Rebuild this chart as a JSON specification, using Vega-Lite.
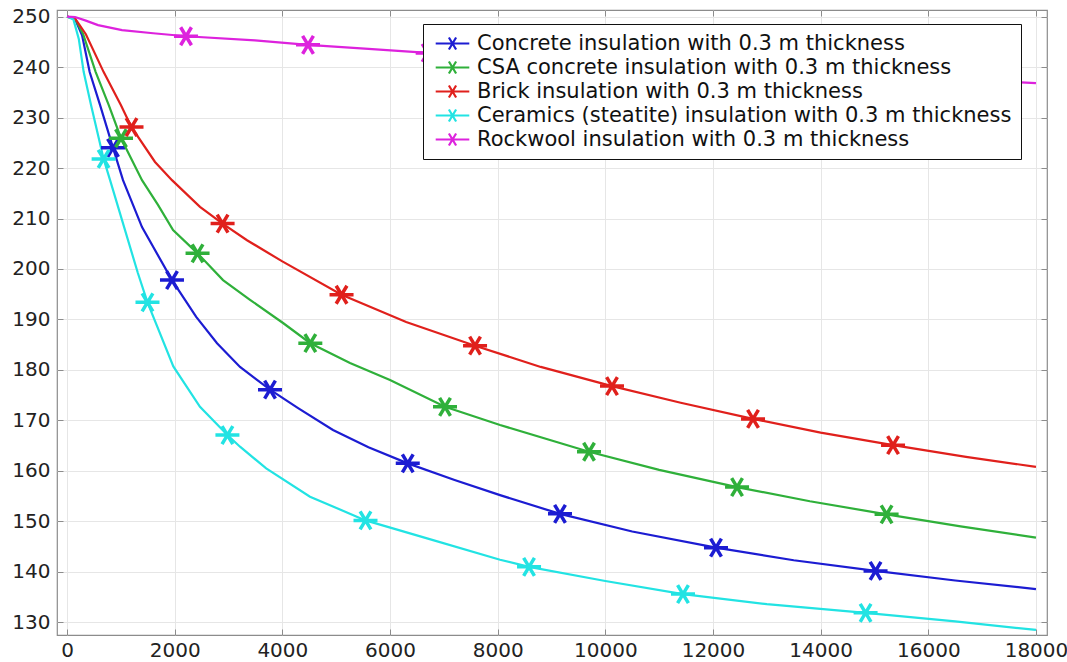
{
  "$schema": "https://vega.github.io/schema/vega-lite/v6.json",
  "width": 990,
  "height": 625,
  "autosize": {"type": "none"},
  "padding": {"left": 57, "top": 10, "right": 20, "bottom": 27},
  "background": "white",
  "config": {
    "view": {"stroke": "#8c8c8c", "strokeWidth": 1.2},
    "font": "DejaVu Sans"
  },
  "datasets": {
    "lines": [
      {"s": "Concrete insulation with 0.3 m thickness", "x": 0, "y": 250},
      {"s": "Concrete insulation with 0.3 m thickness", "x": 150, "y": 249.5},
      {"s": "Concrete insulation with 0.3 m thickness", "x": 280, "y": 246.3},
      {"s": "Concrete insulation with 0.3 m thickness", "x": 421, "y": 239},
      {"s": "Concrete insulation with 0.3 m thickness", "x": 613, "y": 232.5},
      {"s": "Concrete insulation with 0.3 m thickness", "x": 855, "y": 224},
      {"s": "Concrete insulation with 0.3 m thickness", "x": 1040, "y": 217.6},
      {"s": "Concrete insulation with 0.3 m thickness", "x": 1393, "y": 208.3},
      {"s": "Concrete insulation with 0.3 m thickness", "x": 1950, "y": 197.8},
      {"s": "Concrete insulation with 0.3 m thickness", "x": 2400, "y": 190.5},
      {"s": "Concrete insulation with 0.3 m thickness", "x": 2787, "y": 185.3},
      {"s": "Concrete insulation with 0.3 m thickness", "x": 3214, "y": 180.6},
      {"s": "Concrete insulation with 0.3 m thickness", "x": 3771, "y": 176.1},
      {"s": "Concrete insulation with 0.3 m thickness", "x": 4300, "y": 172.4},
      {"s": "Concrete insulation with 0.3 m thickness", "x": 4941, "y": 168.1},
      {"s": "Concrete insulation with 0.3 m thickness", "x": 5600, "y": 164.7},
      {"s": "Concrete insulation with 0.3 m thickness", "x": 6330, "y": 161.5},
      {"s": "Concrete insulation with 0.3 m thickness", "x": 7200, "y": 158.2},
      {"s": "Concrete insulation with 0.3 m thickness", "x": 8044, "y": 155.2},
      {"s": "Concrete insulation with 0.3 m thickness", "x": 9158, "y": 151.5},
      {"s": "Concrete insulation with 0.3 m thickness", "x": 10500, "y": 148.0},
      {"s": "Concrete insulation with 0.3 m thickness", "x": 12056, "y": 144.8},
      {"s": "Concrete insulation with 0.3 m thickness", "x": 13500, "y": 142.3},
      {"s": "Concrete insulation with 0.3 m thickness", "x": 15020, "y": 140.2},
      {"s": "Concrete insulation with 0.3 m thickness", "x": 16500, "y": 138.3},
      {"s": "Concrete insulation with 0.3 m thickness", "x": 18000, "y": 136.6},

      {"s": "CSA concrete insulation with 0.3 m thickness", "x": 0, "y": 250},
      {"s": "CSA concrete insulation with 0.3 m thickness", "x": 150, "y": 249.6},
      {"s": "CSA concrete insulation with 0.3 m thickness", "x": 300, "y": 246.5},
      {"s": "CSA concrete insulation with 0.3 m thickness", "x": 533, "y": 239},
      {"s": "CSA concrete insulation with 0.3 m thickness", "x": 774, "y": 232.5},
      {"s": "CSA concrete insulation with 0.3 m thickness", "x": 1003, "y": 225.9},
      {"s": "CSA concrete insulation with 0.3 m thickness", "x": 1393, "y": 217.6},
      {"s": "CSA concrete insulation with 0.3 m thickness", "x": 1690, "y": 212.7},
      {"s": "CSA concrete insulation with 0.3 m thickness", "x": 1970, "y": 207.7},
      {"s": "CSA concrete insulation with 0.3 m thickness", "x": 2425, "y": 203.1},
      {"s": "CSA concrete insulation with 0.3 m thickness", "x": 2898, "y": 197.8},
      {"s": "CSA concrete insulation with 0.3 m thickness", "x": 3400, "y": 193.9},
      {"s": "CSA concrete insulation with 0.3 m thickness", "x": 4013, "y": 189.3},
      {"s": "CSA concrete insulation with 0.3 m thickness", "x": 4520, "y": 185.3},
      {"s": "CSA concrete insulation with 0.3 m thickness", "x": 5257, "y": 181.4},
      {"s": "CSA concrete insulation with 0.3 m thickness", "x": 6000, "y": 178.0},
      {"s": "CSA concrete insulation with 0.3 m thickness", "x": 7022, "y": 172.7},
      {"s": "CSA concrete insulation with 0.3 m thickness", "x": 8044, "y": 169.1},
      {"s": "CSA concrete insulation with 0.3 m thickness", "x": 9697, "y": 163.8},
      {"s": "CSA concrete insulation with 0.3 m thickness", "x": 11000, "y": 160.2},
      {"s": "CSA concrete insulation with 0.3 m thickness", "x": 12447, "y": 156.8},
      {"s": "CSA concrete insulation with 0.3 m thickness", "x": 13800, "y": 154.0},
      {"s": "CSA concrete insulation with 0.3 m thickness", "x": 15225, "y": 151.4},
      {"s": "CSA concrete insulation with 0.3 m thickness", "x": 16600, "y": 149.0},
      {"s": "CSA concrete insulation with 0.3 m thickness", "x": 18000, "y": 146.8},

      {"s": "Brick insulation with 0.3 m thickness", "x": 0, "y": 250},
      {"s": "Brick insulation with 0.3 m thickness", "x": 150, "y": 249.6},
      {"s": "Brick insulation with 0.3 m thickness", "x": 350, "y": 246.5},
      {"s": "Brick insulation with 0.3 m thickness", "x": 681, "y": 239},
      {"s": "Brick insulation with 0.3 m thickness", "x": 1000, "y": 232.5},
      {"s": "Brick insulation with 0.3 m thickness", "x": 1198, "y": 228.1},
      {"s": "Brick insulation with 0.3 m thickness", "x": 1635, "y": 221.2},
      {"s": "Brick insulation with 0.3 m thickness", "x": 1950, "y": 217.6},
      {"s": "Brick insulation with 0.3 m thickness", "x": 2470, "y": 212.3},
      {"s": "Brick insulation with 0.3 m thickness", "x": 2890, "y": 209.0},
      {"s": "Brick insulation with 0.3 m thickness", "x": 3344, "y": 205.7},
      {"s": "Brick insulation with 0.3 m thickness", "x": 4000, "y": 201.5},
      {"s": "Brick insulation with 0.3 m thickness", "x": 5100, "y": 194.9},
      {"s": "Brick insulation with 0.3 m thickness", "x": 6300, "y": 189.5},
      {"s": "Brick insulation with 0.3 m thickness", "x": 7580, "y": 184.8},
      {"s": "Brick insulation with 0.3 m thickness", "x": 8800, "y": 180.6},
      {"s": "Brick insulation with 0.3 m thickness", "x": 10124, "y": 176.8},
      {"s": "Brick insulation with 0.3 m thickness", "x": 11400, "y": 173.5},
      {"s": "Brick insulation with 0.3 m thickness", "x": 12744, "y": 170.3},
      {"s": "Brick insulation with 0.3 m thickness", "x": 14000, "y": 167.6},
      {"s": "Brick insulation with 0.3 m thickness", "x": 15345, "y": 165.1},
      {"s": "Brick insulation with 0.3 m thickness", "x": 16700, "y": 162.8},
      {"s": "Brick insulation with 0.3 m thickness", "x": 18000, "y": 160.8},

      {"s": "Ceramics (steatite) insulation with 0.3 m thickness", "x": 0, "y": 250},
      {"s": "Ceramics (steatite) insulation with 0.3 m thickness", "x": 120, "y": 249.4},
      {"s": "Ceramics (steatite) insulation with 0.3 m thickness", "x": 220, "y": 245.5},
      {"s": "Ceramics (steatite) insulation with 0.3 m thickness", "x": 310, "y": 239},
      {"s": "Ceramics (steatite) insulation with 0.3 m thickness", "x": 446, "y": 232.5},
      {"s": "Ceramics (steatite) insulation with 0.3 m thickness", "x": 680, "y": 221.8},
      {"s": "Ceramics (steatite) insulation with 0.3 m thickness", "x": 800, "y": 217.6},
      {"s": "Ceramics (steatite) insulation with 0.3 m thickness", "x": 1316, "y": 199.2},
      {"s": "Ceramics (steatite) insulation with 0.3 m thickness", "x": 1495, "y": 193.4},
      {"s": "Ceramics (steatite) insulation with 0.3 m thickness", "x": 1975, "y": 180.7},
      {"s": "Ceramics (steatite) insulation with 0.3 m thickness", "x": 2470, "y": 172.7},
      {"s": "Ceramics (steatite) insulation with 0.3 m thickness", "x": 2980, "y": 167.1},
      {"s": "Ceramics (steatite) insulation with 0.3 m thickness", "x": 3214, "y": 164.8},
      {"s": "Ceramics (steatite) insulation with 0.3 m thickness", "x": 3700, "y": 160.5},
      {"s": "Ceramics (steatite) insulation with 0.3 m thickness", "x": 4514, "y": 154.9},
      {"s": "Ceramics (steatite) insulation with 0.3 m thickness", "x": 5545, "y": 150.2},
      {"s": "Ceramics (steatite) insulation with 0.3 m thickness", "x": 6800, "y": 146.3},
      {"s": "Ceramics (steatite) insulation with 0.3 m thickness", "x": 8044, "y": 142.4},
      {"s": "Ceramics (steatite) insulation with 0.3 m thickness", "x": 8583, "y": 141.0},
      {"s": "Ceramics (steatite) insulation with 0.3 m thickness", "x": 10000, "y": 138.2},
      {"s": "Ceramics (steatite) insulation with 0.3 m thickness", "x": 11443, "y": 135.6},
      {"s": "Ceramics (steatite) insulation with 0.3 m thickness", "x": 13000, "y": 133.6},
      {"s": "Ceramics (steatite) insulation with 0.3 m thickness", "x": 14835, "y": 131.9},
      {"s": "Ceramics (steatite) insulation with 0.3 m thickness", "x": 16500, "y": 130.2},
      {"s": "Ceramics (steatite) insulation with 0.3 m thickness", "x": 18000, "y": 128.5},

      {"s": "Rockwool insulation with 0.3 m thickness", "x": 0, "y": 250},
      {"s": "Rockwool insulation with 0.3 m thickness", "x": 150, "y": 249.9},
      {"s": "Rockwool insulation with 0.3 m thickness", "x": 350, "y": 249.2},
      {"s": "Rockwool insulation with 0.3 m thickness", "x": 576, "y": 248.3},
      {"s": "Rockwool insulation with 0.3 m thickness", "x": 1022, "y": 247.3},
      {"s": "Rockwool insulation with 0.3 m thickness", "x": 1600, "y": 246.7},
      {"s": "Rockwool insulation with 0.3 m thickness", "x": 2211, "y": 246.1},
      {"s": "Rockwool insulation with 0.3 m thickness", "x": 3492, "y": 245.3},
      {"s": "Rockwool insulation with 0.3 m thickness", "x": 4477, "y": 244.4},
      {"s": "Rockwool insulation with 0.3 m thickness", "x": 5600, "y": 243.6},
      {"s": "Rockwool insulation with 0.3 m thickness", "x": 6700, "y": 242.8},
      {"s": "Rockwool insulation with 0.3 m thickness", "x": 8000, "y": 242.1},
      {"s": "Rockwool insulation with 0.3 m thickness", "x": 10000, "y": 241.1},
      {"s": "Rockwool insulation with 0.3 m thickness", "x": 12000, "y": 240.0},
      {"s": "Rockwool insulation with 0.3 m thickness", "x": 14000, "y": 238.9},
      {"s": "Rockwool insulation with 0.3 m thickness", "x": 16000, "y": 237.9},
      {"s": "Rockwool insulation with 0.3 m thickness", "x": 18000, "y": 236.8}
    ],
    "markers": [
      {"s": "Concrete insulation with 0.3 m thickness", "x": 855, "y": 224.0},
      {"s": "Concrete insulation with 0.3 m thickness", "x": 1950, "y": 197.8},
      {"s": "Concrete insulation with 0.3 m thickness", "x": 3771, "y": 176.1},
      {"s": "Concrete insulation with 0.3 m thickness", "x": 6330, "y": 161.5},
      {"s": "Concrete insulation with 0.3 m thickness", "x": 9158, "y": 151.5},
      {"s": "Concrete insulation with 0.3 m thickness", "x": 12056, "y": 144.8},
      {"s": "Concrete insulation with 0.3 m thickness", "x": 15020, "y": 140.2},
      {"s": "CSA concrete insulation with 0.3 m thickness", "x": 1003, "y": 225.9},
      {"s": "CSA concrete insulation with 0.3 m thickness", "x": 2425, "y": 203.1},
      {"s": "CSA concrete insulation with 0.3 m thickness", "x": 4520, "y": 185.3},
      {"s": "CSA concrete insulation with 0.3 m thickness", "x": 7022, "y": 172.7},
      {"s": "CSA concrete insulation with 0.3 m thickness", "x": 9697, "y": 163.8},
      {"s": "CSA concrete insulation with 0.3 m thickness", "x": 12447, "y": 156.8},
      {"s": "CSA concrete insulation with 0.3 m thickness", "x": 15225, "y": 151.4},
      {"s": "Brick insulation with 0.3 m thickness", "x": 1198, "y": 228.1},
      {"s": "Brick insulation with 0.3 m thickness", "x": 2890, "y": 209.0},
      {"s": "Brick insulation with 0.3 m thickness", "x": 5100, "y": 194.9},
      {"s": "Brick insulation with 0.3 m thickness", "x": 7580, "y": 184.8},
      {"s": "Brick insulation with 0.3 m thickness", "x": 10124, "y": 176.8},
      {"s": "Brick insulation with 0.3 m thickness", "x": 12744, "y": 170.3},
      {"s": "Brick insulation with 0.3 m thickness", "x": 15345, "y": 165.1},
      {"s": "Ceramics (steatite) insulation with 0.3 m thickness", "x": 680, "y": 221.8},
      {"s": "Ceramics (steatite) insulation with 0.3 m thickness", "x": 1495, "y": 193.4},
      {"s": "Ceramics (steatite) insulation with 0.3 m thickness", "x": 2980, "y": 167.1},
      {"s": "Ceramics (steatite) insulation with 0.3 m thickness", "x": 5545, "y": 150.2},
      {"s": "Ceramics (steatite) insulation with 0.3 m thickness", "x": 8583, "y": 141.0},
      {"s": "Ceramics (steatite) insulation with 0.3 m thickness", "x": 11443, "y": 135.6},
      {"s": "Ceramics (steatite) insulation with 0.3 m thickness", "x": 14835, "y": 131.9},
      {"s": "Rockwool insulation with 0.3 m thickness", "x": 2211, "y": 246.1},
      {"s": "Rockwool insulation with 0.3 m thickness", "x": 4477, "y": 244.4},
      {"s": "Rockwool insulation with 0.3 m thickness", "x": 6700, "y": 242.8},
      {"s": "Rockwool insulation with 0.3 m thickness", "x": 8950, "y": 241.6},
      {"s": "Rockwool insulation with 0.3 m thickness", "x": 11200, "y": 240.4},
      {"s": "Rockwool insulation with 0.3 m thickness", "x": 13450, "y": 239.2},
      {"s": "Rockwool insulation with 0.3 m thickness", "x": 15700, "y": 238.0}
    ]
  },
  "layer": [
    {
      "data": {"name": "lines"},
      "mark": {"type": "line", "strokeWidth": 2.2, "interpolate": "linear"},
      "encoding": {
        "x": {
          "field": "x", "type": "quantitative",
          "scale": {"domain": [-186, 18205], "nice": false, "zero": false},
          "axis": {
            "orient": "bottom", "title": null, "values": [0, 2000, 4000, 6000, 8000, 10000, 12000, 14000, 16000, 18000],
            "format": "d", "grid": true, "gridColor": "#e6e6e6", "gridWidth": 1,
            "domain": false, "ticks": true, "tickSize": -6, "tickColor": "#8c8c8c",
            "labelFont": "DejaVu Sans", "labelFontSize": 20, "labelColor": "#222222", "labelPadding": 11,
            "labelFlush": false, "labelOverlap": false
          }
        },
        "y": {
          "field": "y", "type": "quantitative",
          "scale": {"domain": [127.5, 251.3], "nice": false, "zero": false},
          "axis": {
            "orient": "left", "title": null, "values": [130, 140, 150, 160, 170, 180, 190, 200, 210, 220, 230, 240, 250],
            "grid": true, "gridColor": "#e6e6e6", "gridWidth": 1,
            "domain": false, "ticks": true, "tickSize": -6, "tickColor": "#8c8c8c",
            "labelFont": "DejaVu Sans", "labelFontSize": 20, "labelColor": "#222222", "labelPadding": 13,
            "labelFlush": false, "labelOverlap": false
          }
        },
        "color": {
          "field": "s", "type": "nominal",
          "scale": {
            "domain": ["Concrete insulation with 0.3 m thickness", "CSA concrete insulation with 0.3 m thickness", "Brick insulation with 0.3 m thickness", "Ceramics (steatite) insulation with 0.3 m thickness", "Rockwool insulation with 0.3 m thickness"],
            "range": ["#1c1cd2", "#2fb03a", "#e0201c", "#22e3e3", "#dd22dd"]
          },
          "legend": {
            "orient": "none", "legendX": 366, "legendY": 14, "title": null,
            "padding": 9, "fillColor": "white", "strokeColor": "#111111", "cornerRadius": 0,
            "symbolType": "M-2.1,0L2.1,0M-0.45,-0.75L0.45,0.75M-0.45,0.75L0.45,-0.75",
            "symbolSize": 256, "symbolStrokeWidth": 2.2, "symbolFillColor": "transparent", "symbolOffset": 10,
            "labelFont": "DejaVu Sans", "labelFontSize": 21, "labelColor": "#111111", "labelOffset": 14,
            "labelLimit": 0, "rowPadding": 2
          }
        }
      }
    },
    {
      "data": {"name": "markers"},
      "mark": {"type": "point", "shape": "M-1,0L1,0M-0.45,-0.75L0.45,0.75M-0.45,0.75L0.45,-0.75", "size": 576, "filled": false, "strokeWidth": 3.5, "opacity": 1},
      "encoding": {
        "x": {"field": "x", "type": "quantitative", "axis": null},
        "y": {"field": "y", "type": "quantitative", "axis": null},
        "color": {"field": "s", "type": "nominal"}
      }
    },
    {
      "data": {"name": "markers"},
      "mark": {"type": "point", "opacity": 0},
      "encoding": {
        "x": {
          "field": "x", "type": "quantitative",
          "axis": {"orient": "top", "title": null, "values": [0, 2000, 4000, 6000, 8000, 10000, 12000, 14000, 16000, 18000], "labels": false, "grid": false, "domain": false, "ticks": true, "tickSize": -6, "tickColor": "#8c8c8c"}
        },
        "y": {
          "field": "y", "type": "quantitative",
          "axis": {"orient": "right", "title": null, "values": [130, 140, 150, 160, 170, 180, 190, 200, 210, 220, 230, 240, 250], "labels": false, "grid": false, "domain": false, "ticks": true, "tickSize": -6, "tickColor": "#8c8c8c"}
        }
      }
    }
  ]
}
